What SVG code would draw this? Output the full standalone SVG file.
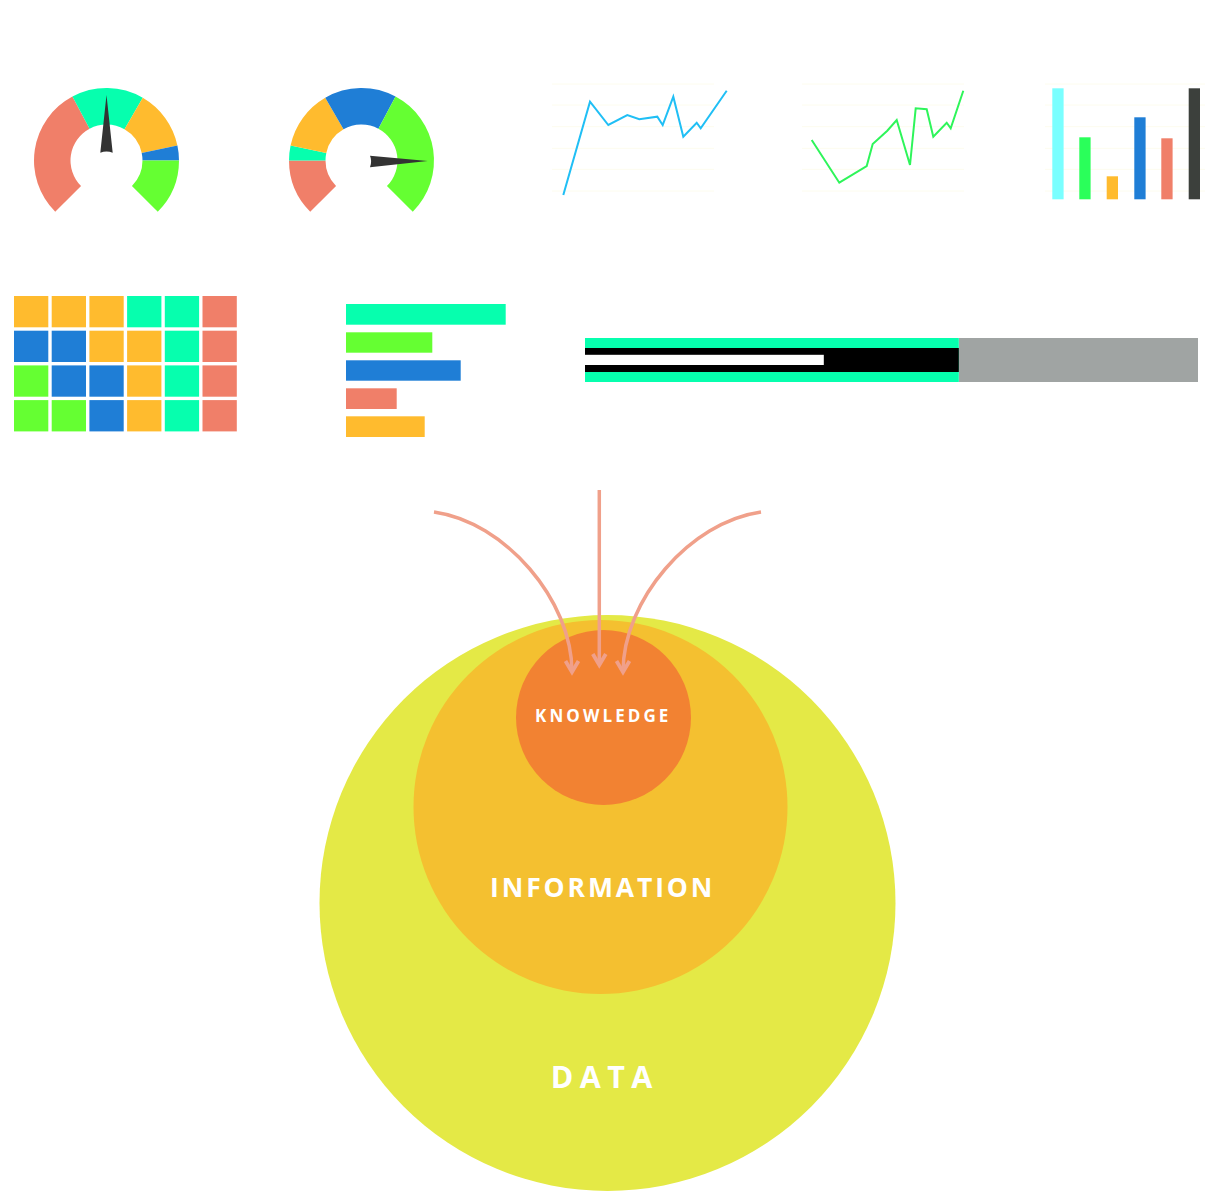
<svg xmlns="http://www.w3.org/2000/svg" width="1213" height="1191" viewBox="0 0 1213 1191">
<defs>
<style>
.r{fill:#F07F69}.t{fill:#06FFAE}.y{fill:#FFBB2E}.b{fill:#1F7ED6}.g{fill:#65FF32}
.needle{fill:#333333}
.grid{stroke:#FDFCEE;stroke-width:1;fill:none}
.arrow{fill:none;stroke:#F0A08A;stroke-width:3.5;marker-end:url(#chev)}
.lbl{fill:#FFFFFF;font-family:"Open Sans",Lato,"Liberation Sans",sans-serif;font-weight:700;text-anchor:middle}
</style>
<marker id="chev" markerUnits="userSpaceOnUse" markerWidth="20" markerHeight="20" refX="0" refY="0" viewBox="-14 -10 20 20" orient="auto">
<path d="M-11,-6.5 L0,0 L-11,6.5" fill="none" stroke="#F0A08A" stroke-width="3.8"/>
</marker>
</defs>
<rect width="1213" height="1191" fill="#FFFFFF"/>

<g id="gauge1">
<path class="r" d="M55.24,211.76 A72.5,72.5 0 0 1 72.46,96.49 L89.60,128.72 A36,36 0 0 0 81.04,185.96 Z"/>
<path class="t" d="M72.46,96.49 A72.5,72.5 0 0 1 142.75,97.71 L124.5,129.32 A36,36 0 0 0 89.60,128.72 Z"/>
<path class="y" d="M142.75,97.71 A72.5,72.5 0 0 1 177.41,145.43 L141.71,153.02 A36,36 0 0 0 124.5,129.32 Z"/>
<path class="b" d="M177.41,145.43 A72.5,72.5 0 0 1 179,160.5 L142.5,160.5 A36,36 0 0 0 141.71,153.02 Z"/>
<path class="g" d="M179,160.5 A72.5,72.5 0 0 1 157.76,211.76 L131.96,185.96 A36,36 0 0 0 142.5,160.5 Z"/>
<path class="needle" d="M106.5,95 L112.7,152.7 Q106.5,150.5 100.3,152.7 Z"/>
</g>

<g id="gauge2">
<path class="r" d="M310.24,211.76 A72.5,72.5 0 0 1 289,160.5 L325.5,160.5 A36,36 0 0 0 336.04,185.96 Z"/>
<path class="t" d="M289,160.5 A72.5,72.5 0 0 1 290.59,145.43 L326.29,153.02 A36,36 0 0 0 325.5,160.5 Z"/>
<path class="y" d="M290.59,145.43 A72.5,72.5 0 0 1 325.25,97.71 L343.5,129.32 A36,36 0 0 0 326.29,153.02 Z"/>
<path class="b" d="M325.25,97.71 A72.5,72.5 0 0 1 395.54,96.49 L378.40,128.72 A36,36 0 0 0 343.5,129.32 Z"/>
<path class="g" d="M395.54,96.49 A72.5,72.5 0 0 1 412.76,211.76 L386.96,185.96 A36,36 0 0 0 378.40,128.72 Z"/>
<path class="needle" d="M427.7,161 L370,167.3 Q372.3,161 370,155.7 Z"/>
</g>

<g id="linechart1">
<path class="grid" d="M552,84H714M552,105H714M552,126.7H714M552,148.3H714M552,169.3H714M552,191H714"/>
<polyline fill="none" stroke="#20BFF5" stroke-width="2" points="563.3,195 590,101.7 608.3,125 627.3,115 639.3,119.3 657.3,116.7 662.7,125 673.3,96.7 683.3,136.7 696.7,122.7 700.7,128.3 726.7,90.7"/>
</g>

<g id="linechart2">
<path class="grid" d="M802,84H964M802,105H964M802,126.7H964M802,148.3H964M802,169.3H964M802,191H964"/>
<polyline fill="none" stroke="#2EF55A" stroke-width="2" points="811.7,140 839.3,182.7 866.7,166 872.7,144 887.3,130.7 896.7,120 910,165 915.7,108.3 926.7,109.3 933.3,136.7 946.7,122.7 950.7,128.3 963.3,90.7"/>
</g>

<g id="barchart">
<path class="grid" d="M1045,84H1205M1045,105H1205M1045,126.7H1205M1045,148.3H1205M1045,169.3H1205M1045,191H1205"/>
<rect x="1052.3" y="88.3" width="11.3" height="111" fill="#7AFFFF"/>
<rect x="1079.3" y="137.3" width="11.3" height="62" fill="#2AFF5A"/>
<rect x="1106.7" y="176.3" width="11.3" height="23" fill="#FFBB2E"/>
<rect x="1134.3" y="117.3" width="11.3" height="82" fill="#1F7ED6"/>
<rect x="1161.3" y="138.3" width="11.3" height="61" fill="#F07F69"/>
<rect x="1188.7" y="88.3" width="11.3" height="111" fill="#3C403C"/>
</g>

<g id="heatmap">
<rect class="y" x="14" y="296" width="34.3" height="31.3"/>
<rect class="y" x="51.7" y="296" width="34.3" height="31.3"/>
<rect class="y" x="89.4" y="296" width="34.3" height="31.3"/>
<rect class="t" x="127.1" y="296" width="34.3" height="31.3"/>
<rect class="t" x="164.8" y="296" width="34.3" height="31.3"/>
<rect class="r" x="202.5" y="296" width="34.3" height="31.3"/>

<rect class="b" x="14" y="330.7" width="34.3" height="31.3"/>
<rect class="b" x="51.7" y="330.7" width="34.3" height="31.3"/>
<rect class="y" x="89.4" y="330.7" width="34.3" height="31.3"/>
<rect class="y" x="127.1" y="330.7" width="34.3" height="31.3"/>
<rect class="t" x="164.8" y="330.7" width="34.3" height="31.3"/>
<rect class="r" x="202.5" y="330.7" width="34.3" height="31.3"/>

<rect class="g" x="14" y="365.4" width="34.3" height="31.3"/>
<rect class="b" x="51.7" y="365.4" width="34.3" height="31.3"/>
<rect class="b" x="89.4" y="365.4" width="34.3" height="31.3"/>
<rect class="y" x="127.1" y="365.4" width="34.3" height="31.3"/>
<rect class="t" x="164.8" y="365.4" width="34.3" height="31.3"/>
<rect class="r" x="202.5" y="365.4" width="34.3" height="31.3"/>

<rect class="g" x="14" y="400.1" width="34.3" height="31.3"/>
<rect class="g" x="51.7" y="400.1" width="34.3" height="31.3"/>
<rect class="b" x="89.4" y="400.1" width="34.3" height="31.3"/>
<rect class="y" x="127.1" y="400.1" width="34.3" height="31.3"/>
<rect class="t" x="164.8" y="400.1" width="34.3" height="31.3"/>
<rect class="r" x="202.5" y="400.1" width="34.3" height="31.3"/>
</g>

<g id="hbars">
<rect class="t" x="346" y="304" width="159.7" height="20.7"/>
<rect class="g" x="346" y="332.3" width="86.3" height="20.4"/>
<rect class="b" x="346" y="360.3" width="114.7" height="20.4"/>
<rect class="r" x="346" y="388.3" width="50.7" height="20.7"/>
<rect class="y" x="346" y="416.3" width="78.7" height="20.7"/>
</g>

<g id="bullet">
<rect x="958.8" y="338" width="239.2" height="44" fill="#A0A4A3"/>
<rect class="t" x="585" y="338" width="373.8" height="44"/>
<rect x="585" y="348" width="373.8" height="24" fill="#000000"/>
<rect x="585" y="354.8" width="238.8" height="10.2" fill="#FFFFFF"/>
</g>

<g id="data">
<circle cx="607.5" cy="903" r="288" fill="#E4E946"/>
<text class="lbl" x="601.5" y="1088.3" font-size="30.5" textLength="101.7" lengthAdjust="spacing">DATA</text>
</g>
<g id="information">
<circle cx="600.5" cy="807" r="187" fill="#F4C030"/>
<text class="lbl" x="601.2" y="897.3" font-size="26.5" textLength="222.3" lengthAdjust="spacing">INFORMATION</text>
</g>
<g id="knowledge">
<circle cx="603.5" cy="717.5" r="87.5" fill="#F28232"/>
<text class="lbl" x="601.7" y="722.3" font-size="17" textLength="133.3" lengthAdjust="spacing">KNOWLEDGE</text>
</g>

<g id="connectors">
<path class="arrow" d="M434,512 C505,522 572,600 572,672"/>
<path class="arrow" d="M599.3,490 L599.3,665"/>
<path class="arrow" d="M761,512 C690,522 623,600 623,672"/>
</g>
</svg>
